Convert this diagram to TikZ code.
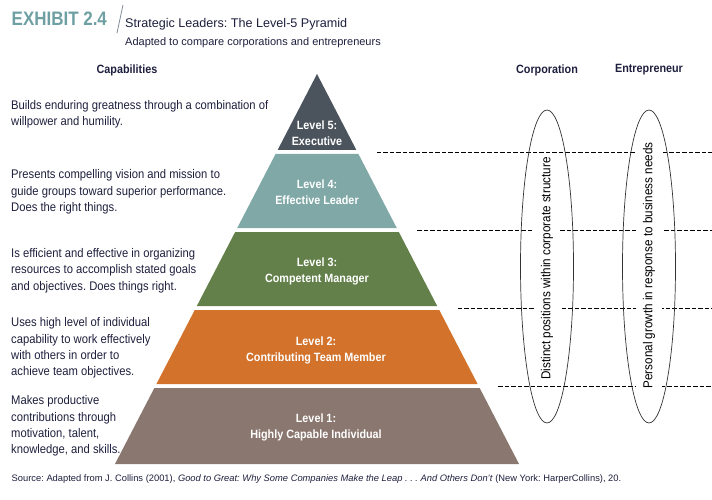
\documentclass[tikz,border=0pt]{standalone}
\usepackage{fontspec}
\setmainfont{Liberation Sans}
\newfontfamily\condfont[FakeStretch=0.9]{Liberation Sans}
\newfontfamily\headfont[FakeStretch=0.87]{Liberation Sans}
\usetikzlibrary{positioning,shapes.geometric}
\definecolor{lvfive}{HTML}{4B535D}
\definecolor{lvfour}{HTML}{7FA8A7}
\definecolor{lvthree}{HTML}{63804A}
\definecolor{lvtwo}{HTML}{D2722B}
\definecolor{lvone}{HTML}{8A776F}
\definecolor{inkblue}{HTML}{1E1F3D}
\definecolor{exhibit}{HTML}{6E9FA2}
\definecolor{slash}{HTML}{7F8A96}
\frenchspacing

\begin{document}
\begin{tikzpicture}[x=1pt,y=-1pt,node distance=102pt,on grid,
  capab/.style={anchor=west,align=left,inner sep=0,text=inkblue,
    font=\condfont\fontsize{12.5}{16.3}\selectfont},
  lvl/.style={align=center,inner sep=0,text=white,
    font=\condfont\bfseries\fontsize{12}{16}\selectfont},
  colhead/.style={inner sep=0,text=inkblue,font=\condfont\bfseries\fontsize{12}{14}\selectfont},
  oval/.style={draw=black!80,ellipse,line width=0.7pt,minimum width=53pt,
    minimum height=313pt,inner sep=0},
  ovaltext/.style={rotate=90,fill=white,inner xsep=1pt,inner ysep=7pt,
    font=\condfont\fontsize{13}{15}\selectfont},
  divider/.style={line width=0.7pt,dash pattern=on 4.5pt off 2pt}]
  \useasboundingbox (0,0) rectangle (712,500);

  % header
  \node[anchor=base west,inner sep=0,text=exhibit,
    font=\headfont\bfseries\fontsize{19.5}{20}\selectfont] (exhibit) at (11.5,26) {EXHIBIT 2.4};
  \draw[slash,line width=0.8pt] (117,33) -- (123,5);
  \node[anchor=base west,inner sep=0,text=inkblue,font=\fontsize{12.6}{14}\selectfont]
    (title) at (125,27.2) {Strategic Leaders: The Level-5 Pyramid};
  \node[anchor=base west,inner sep=0,text=inkblue,font=\fontsize{11}{13}\selectfont]
    (subtitle) at (125,45.6) {Adapted to compare corporations and entrepreneurs};

  % pyramid
  \coordinate (apex) at (317,74);
  \foreach \ya/\yb/\col in {74/150/lvfive,154/228/lvfour,232/306/lvthree,310/384/lvtwo,388/464/lvone}
    \fill[\col] ({317-0.518*(\ya-74)},\ya) -- ({317+0.518*(\ya-74)},\ya)
      -- ({317+0.518*(\yb-74)},\yb) -- ({317-0.518*(\yb-74)},\yb) -- cycle;
  \node[lvl] (lv5) at (317,133.5) {Level 5:\\Executive};
  \node[lvl] (lv4) at (317,192.5) {Level 4:\\Effective Leader};
  \node[lvl] (lv3) at (317,271.8) {Level 3:\\Competent Manager};
  \node[lvl] (lv2) at (316,350) {Level 2:\\Contributing Team Member};
  \node[lvl] (lv1) at (316,427.8) {Level 1:\\Highly Capable Individual};

  \foreach \y in {152,230,308,386}
    \draw[divider] ({336.5+0.518*(\y-74)},\y) -- (712,\y);

  % columns
  \node[colhead] (caphead) at (127,70) {Capabilities};
  \node[colhead] (corphead) at (547,70) {Corporation};
  \node[colhead] (entrhead) [right=of corphead] {Entrepreneur};

  \node[capab] (cap5) at (11,114.6) {Builds enduring greatness through a combination of\\willpower and humility.};
  \node[capab] (cap4) at (11,192) {Presents compelling vision and mission to\\guide groups toward superior performance.\\Does the right things.};
  \node[capab] (cap3) at (11,270.5) {Is efficient and effective in organizing\\resources to accomplish stated goals\\and objectives. Does things right.};
  \node[capab] (cap2) at (11,348) {Uses high level of individual\\capability to work effectively\\with others in order to\\achieve team objectives.};
  \node[capab] (cap1) at (11,426) {Makes productive\\contributions through\\motivation, talent,\\knowledge, and skills.};

  \node[ovaltext] (corptxt) at (547,268.5) {Distinct positions within corporate structure};
  \node[ovaltext] (entrtxt) at (649,265.5) {Personal growth in response to business needs};
  \node[oval] (corp) at (547,266.5) {};
  \node[oval] (entr) [right=of corp] {};

  % source
  \node[anchor=base west,inner sep=0,text=inkblue,font=\fontsize{9.35}{11}\selectfont]
    (source) at (11.5,481) {Source: Adapted from J. Collins (2001), \textit{Good to Great: Why Some Companies Make the Leap . . . And Others Don’t} (New York: HarperCollins), 20.};
\end{tikzpicture}
\end{document}
